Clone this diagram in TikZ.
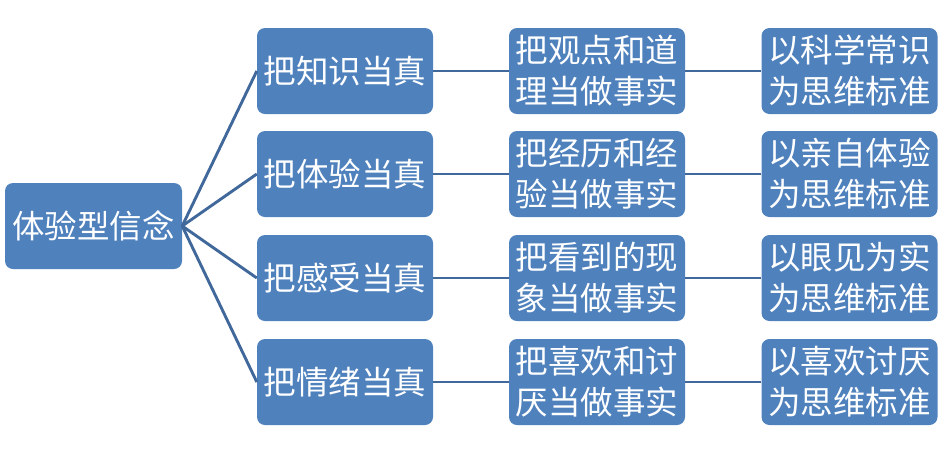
\documentclass[tikz,border=0pt]{standalone}
\usepackage{fontspec}
\setmainfont{Noto Sans CJK SC}
\begin{document}
\begin{tikzpicture}[x=1pt,y=-1pt,
  box/.style={fill=boxblue, rounded corners=8pt, minimum height=86pt, inner sep=0pt, text=white, font=\fontsize{32.5}{41}\selectfont, align=center},
  wbox/.style={box, minimum width=176pt},
  link/.style={draw=lineblue, line width=2.9pt}]
\definecolor{boxblue}{HTML}{4F81BD}
\definecolor{lineblue}{HTML}{41689B}
\useasboundingbox (0,0) rectangle (944,451);
\node[box, minimum width=177pt] (root) at (93.5,226) {体验型信念};
\node[wbox] (a1) at (345,71) {把知识当真};
\node[wbox] (a2) at (345,174) {把体验当真};
\node[wbox] (a3) at (345,278) {把感受当真};
\node[wbox] (a4) at (345,382) {把情绪当真};
\node[wbox] (b1) at (597,71) {把观点和道\\理当做事实};
\node[wbox] (b2) at (597,174) {把经历和经\\验当做事实};
\node[wbox] (b3) at (597,278) {把看到的现\\象当做事实};
\node[wbox] (b4) at (597,382) {把喜欢和讨\\厌当做事实};
\node[wbox] (c1) at (849.5,71) {以科学常识\\为思维标准};
\node[wbox] (c2) at (849.5,174) {以亲自体验\\为思维标准};
\node[wbox] (c3) at (849.5,278) {以眼见为实\\为思维标准};
\node[wbox] (c4) at (849.5,382) {以喜欢讨厌\\为思维标准};
\foreach \i in {1,2,3,4} {
  \draw[link] (root.east) -- (a\i.west);
  \draw[link] (a\i.east) -- (b\i.west);
  \draw[link] (b\i.east) -- (c\i.west);
}
\end{tikzpicture}
\end{document}
